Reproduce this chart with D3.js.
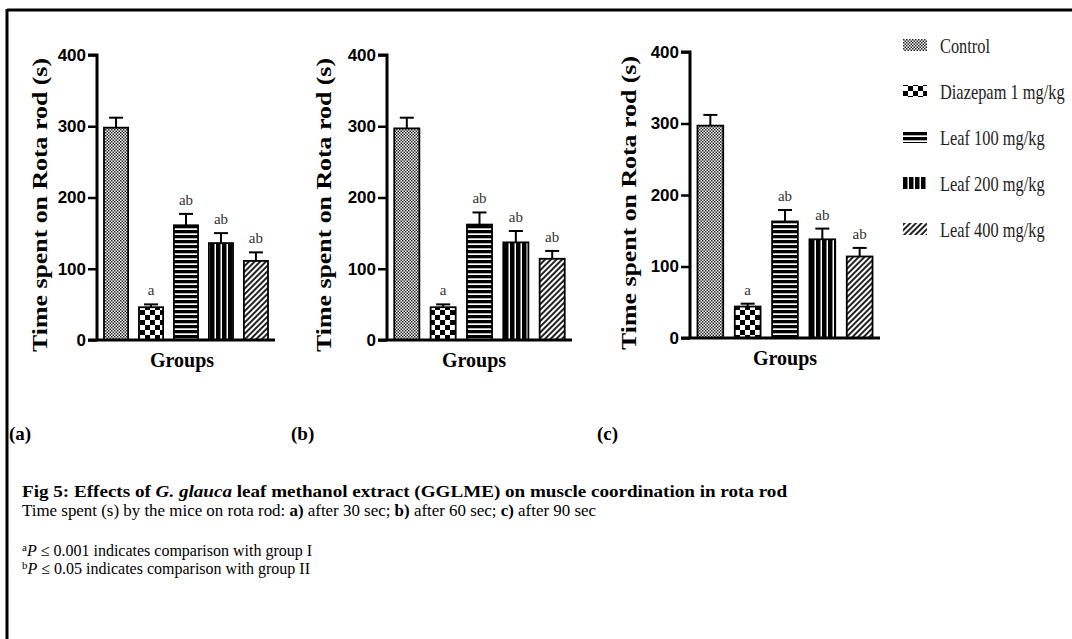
<!DOCTYPE html>
<html>
<head>
<meta charset="utf-8">
<script src="https://cdn.jsdelivr.net/npm/d3@7"></script>
<style>
  html, body { margin: 0; padding: 0; background: #fff; }
  svg { display: block; }
  .serif { font-family: "Liberation Serif", "Times New Roman", serif; }
  .sans { font-family: "Liberation Sans", Arial, sans-serif; }
</style>
</head>
<body>
<svg id="chart" width="1072" height="639"></svg>
<script>
/* data */
var groups = ["Control", "Diazepam 1 mg/kg", "Leaf 100 mg/kg", "Leaf 200 mg/kg", "Leaf 400 mg/kg"];
var sigLabels = ["", "a", "ab", "ab", "ab"];
var yTicks = [0, 100, 200, 300, 400];

var meansA = [298, 46, 161, 136, 111];
var errA = [14, 4, 16, 14, 12];
var meansB = [297, 46, 162, 137, 114];
var errB = [15, 4, 17, 16, 11];
var meansC = [297, 44, 163, 138, 114];
var errC = [15, 4, 16, 15, 12];

var panelNames = ["(a)", "(b)", "(c)"];

var svg = d3.select("#chart");

// frame of the figure
svg.append("line").attr("x1", 7).attr("x2", 1072).attr("y1", 10).attr("y2", 10)
  .attr("stroke", "#000").attr("stroke-width", 3);
svg.append("line").attr("x1", 7).attr("x2", 7).attr("y1", 9).attr("y2", 639)
  .attr("stroke", "#000").attr("stroke-width", 3);

initPatterns();

var panels = [
  { means: meansA, errs: errA, x0: 97, x1: 275, yZero: 340, yTop: 55, labelX: 40, labelY: 205, groupsX: 182, groupsY: 367, tag: panelNames[0], tagX: 9 },
  { means: meansB, errs: errB, x0: 387, x1: 572, yZero: 340, yTop: 55, labelX: 324, labelY: 205, groupsX: 474, groupsY: 367, tag: panelNames[1], tagX: 291 },
  { means: meansC, errs: errC, x0: 690, x1: 880, yZero: 338, yTop: 52, labelX: 629, labelY: 203, groupsX: 785, groupsY: 365, tag: panelNames[2], tagX: 597 }
];

panels.forEach(drawPanel);
drawLegend();
drawCaption();

function initPatterns() {
  let defs = svg.append("defs");

  // fine grey checker (control)
  let p0 = defs.append("pattern").attr("id", "pat0").attr("patternUnits", "userSpaceOnUse")
    .attr("width", 3).attr("height", 3);
  p0.append("rect").attr("width", 3).attr("height", 3).attr("fill", "#fff");
  p0.append("rect").attr("width", 1.5).attr("height", 1.5).attr("fill", "#222");
  p0.append("rect").attr("x", 1.5).attr("y", 1.5).attr("width", 1.5).attr("height", 1.5).attr("fill", "#222");

  // coarse checkerboard (diazepam)
  let p1 = defs.append("pattern").attr("id", "pat1").attr("patternUnits", "userSpaceOnUse")
    .attr("width", 10).attr("height", 10);
  p1.append("rect").attr("width", 10).attr("height", 10).attr("fill", "#fff");
  p1.append("rect").attr("width", 5).attr("height", 5).attr("fill", "#000");
  p1.append("rect").attr("x", 5).attr("y", 5).attr("width", 5).attr("height", 5).attr("fill", "#000");

  // horizontal stripes (leaf 100)
  let p2 = defs.append("pattern").attr("id", "pat2").attr("patternUnits", "userSpaceOnUse")
    .attr("width", 10).attr("height", 5);
  p2.append("rect").attr("width", 10).attr("height", 5).attr("fill", "#fff");
  p2.append("rect").attr("width", 10).attr("height", 3.3).attr("fill", "#000");

  // vertical thick bars (leaf 200)
  let p3 = defs.append("pattern").attr("id", "pat3").attr("patternUnits", "userSpaceOnUse")
    .attr("width", 6).attr("height", 10);
  p3.append("rect").attr("width", 6).attr("height", 10).attr("fill", "#fff");
  p3.append("rect").attr("width", 4.5).attr("height", 10).attr("fill", "#000");

  // diagonal hatch (leaf 400)
  let p4 = defs.append("pattern").attr("id", "pat4").attr("patternUnits", "userSpaceOnUse")
    .attr("width", 4).attr("height", 4).attr("patternTransform", "rotate(45)");
  p4.append("rect").attr("width", 4).attr("height", 4).attr("fill", "#fff");
  p4.append("rect").attr("width", 2).attr("height", 4).attr("fill", "#222");
}

function drawPanel(p) {
  let g = svg.append("g");

  let y = d3.scaleLinear().domain([0, 400]).range([p.yZero, p.yTop]);
  let x = d3.scaleBand().domain(groups).range([p.x0, p.x1])
    .paddingInner(0.31).paddingOuter(0.2);

  // bars
  g.selectAll("rect.bar").data(groups).enter().append("rect")
    .attr("class", "bar")
    .attr("x", d => x(d))
    .attr("width", x.bandwidth())
    .attr("y", (d, i) => y(p.means[i]))
    .attr("height", (d, i) => y(0) - y(p.means[i]))
    .attr("fill", (d, i) => "url(#pat" + i + ")")
    .attr("stroke", "#000").attr("stroke-width", 1.8);

  // upper error bars
  let err = g.selectAll("g.err").data(groups).enter().append("g").attr("class", "err");
  err.append("line")
    .attr("x1", d => x(d) + x.bandwidth() / 2).attr("x2", d => x(d) + x.bandwidth() / 2)
    .attr("y1", (d, i) => y(p.means[i])).attr("y2", (d, i) => y(p.means[i] + p.errs[i]))
    .attr("stroke", "#000").attr("stroke-width", 2);
  err.append("line")
    .attr("x1", d => x(d) + x.bandwidth() / 2 - 7).attr("x2", d => x(d) + x.bandwidth() / 2 + 7)
    .attr("y1", (d, i) => y(p.means[i] + p.errs[i])).attr("y2", (d, i) => y(p.means[i] + p.errs[i]))
    .attr("stroke", "#000").attr("stroke-width", 2);

  // significance letters
  g.selectAll("text.sig").data(groups).enter().append("text")
    .attr("class", "sig serif")
    .attr("x", d => x(d) + x.bandwidth() / 2)
    .attr("y", (d, i) => y(p.means[i] + p.errs[i]) - 9)
    .attr("text-anchor", "middle")
    .attr("font-size", 15).attr("fill", "#333")
    .text((d, i) => sigLabels[i]);

  // y axis
  let yAxis = d3.axisLeft(y).tickValues(yTicks).tickSize(9).tickPadding(2).tickFormat(d3.format("d"));
  let ya = g.append("g").attr("transform", "translate(" + p.x0 + ",0)").call(yAxis);
  ya.select(".domain").attr("stroke", "#000").attr("stroke-width", 3)
    .attr("d", "M-9," + y(400) + "H0V" + y(0));
  ya.selectAll(".tick line").attr("stroke", "#000").attr("stroke-width", 2.5);
  ya.selectAll(".tick text").attr("class", "sans").attr("font-size", 17)
    .attr("font-weight", "bold").attr("fill", "#000");

  // x axis baseline
  g.append("line").attr("x1", p.x0 - 9).attr("x2", p.x1).attr("y1", y(0)).attr("y2", y(0))
    .attr("stroke", "#000").attr("stroke-width", 3);

  g.append("text").attr("class", "serif")
    .attr("transform", "translate(" + p.labelX + "," + p.labelY + ") rotate(-90)")
    .attr("text-anchor", "middle").attr("dominant-baseline", "central")
    .attr("font-size", 21).attr("font-weight", "bold")
    .attr("textLength", 294).attr("lengthAdjust", "spacingAndGlyphs")
    .text("Time spent on Rota rod (s)");

  g.append("text").attr("class", "serif")
    .attr("x", p.groupsX).attr("y", p.groupsY)
    .attr("text-anchor", "middle")
    .attr("font-size", 20).attr("font-weight", "bold")
    .text("Groups");

  g.append("text").attr("class", "serif")
    .attr("x", p.tagX).attr("y", 440)
    .attr("font-size", 19).attr("font-weight", "bold")
    .text(p.tag);
}

function drawLegend() {
  let ly = d3.scalePoint().domain(groups).range([45, 229]);
  let lg = svg.append("g");
  let items = lg.selectAll("g.item").data(groups).enter().append("g")
    .attr("class", "item")
    .attr("transform", d => "translate(903," + ly(d) + ")");
  items.append("rect").attr("x", 0).attr("y", -6).attr("width", 24).attr("height", 12)
    .attr("fill", (d, i) => "url(#pat" + i + ")");
  items.append("text").attr("class", "serif")
    .attr("y", 1).attr("dominant-baseline", "central")
    .attr("font-size", 21).attr("fill", "#222")
    .attr("transform", "scale(0.78,1)")
    .attr("x", 37 / 0.78)
    .text(d => d);
}

function drawCaption() {
  let cap = svg.append("g").attr("class", "serif").attr("fill", "#000");

  let t1 = cap.append("text").attr("x", 22).attr("y", 497).attr("font-size", 16).attr("font-weight", "bold")
    .attr("textLength", 765).attr("lengthAdjust", "spacingAndGlyphs");
  t1.append("tspan").text("Fig 5: Effects of ");
  t1.append("tspan").attr("font-style", "italic").text("G. glauca");
  t1.append("tspan").text(" leaf methanol extract (GGLME) on muscle coordination in rota rod");

  let t2 = cap.append("text").attr("x", 22).attr("y", 516).attr("font-size", 16)
    .attr("textLength", 574).attr("lengthAdjust", "spacingAndGlyphs");
  t2.append("tspan").text("Time spent (s) by the mice on rota rod: ");
  t2.append("tspan").attr("font-weight", "bold").text("a)");
  t2.append("tspan").text(" after 30 sec; ");
  t2.append("tspan").attr("font-weight", "bold").text("b)");
  t2.append("tspan").text(" after 60 sec; ");
  t2.append("tspan").attr("font-weight", "bold").text("c)");
  t2.append("tspan").text(" after 90 sec");

  let notes = [["a", "0.001", "I", 287], ["b", "0.05", "II", 277]];
  notes.forEach((n, i) => {
    let t = cap.append("text").attr("x", 22).attr("y", 556 + i * 18).attr("font-size", 16);
    t.append("tspan").attr("font-size", 11).attr("dy", -5).text(n[0]);
    t.append("tspan").attr("font-style", "italic").attr("dy", 5).text("P");
    t.append("tspan").text(" \u2264 " + n[1] + " indicates comparison with group " + n[2]);
  });
}
</script>
</body>
</html>
